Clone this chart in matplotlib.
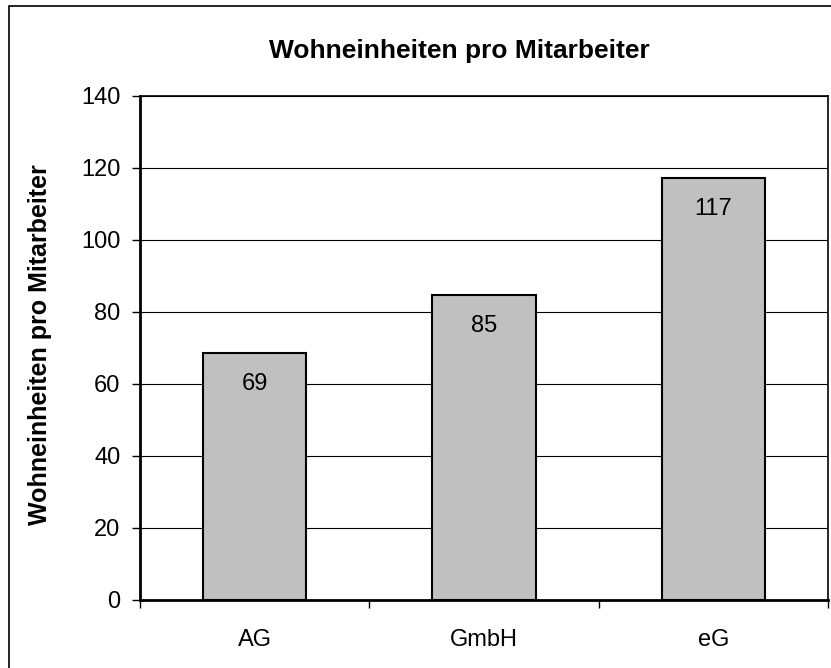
import matplotlib
matplotlib.use("Agg")
import matplotlib.pyplot as plt
from matplotlib.patches import Rectangle

categories = ["AG", "GmbH", "eG"]
values = [68.6, 84.6, 117.2]
labels = ["69", "85", "117"]
title = "Wohneinheiten pro Mitarbeiter"

plt.rcParams["font.family"] = ["Liberation Sans", "DejaVu Sans"]

fig = plt.figure(figsize=(8.31, 6.68), dpi=100)
ax = fig.add_axes([140 / 831, 1 - 600 / 668, 688 / 831, 504 / 668])

# outer chart border (cut off at right and bottom like the reference)
fig.patches.append(Rectangle((9 / 831, -0.1), 1.2, 1 - 6 / 668 + 0.1,
                             transform=fig.transFigure, fill=False,
                             edgecolor="black", linewidth=1.2))

x = range(len(categories))
bars = ax.bar(x, values, width=0.45, color="#c0c0c0", edgecolor="black",
              linewidth=1.5, zorder=3)
for b, lab in zip(bars, labels):
    ax.text(b.get_x() + b.get_width() / 2, b.get_height() - 5.5, lab,
            ha="center", va="top", fontsize=17, zorder=4)

ax.set_xlim(-0.5, 2.5)
ax.set_ylim(0, 140)
ax.set_yticks(range(0, 141, 20))
ax.set_xticks([-0.5, 0.5, 1.5, 2.5], minor=False)
ax.set_xticklabels([])
ax.set_xticks(list(x), minor=True)
ax.set_xticklabels(categories, minor=True, fontsize=17)
ax.tick_params(axis="x", which="minor", length=0, pad=21)
ax.tick_params(axis="x", which="major", length=6, direction="out", width=1)
ax.tick_params(axis="y", length=6, width=1, labelsize=17, pad=8)
ax.grid(axis="y", color="black", linewidth=0.8, zorder=0)

for s in ["left", "bottom"]:
    ax.spines[s].set_linewidth(2)
for s in ["right", "top"]:
    ax.spines[s].set_linewidth(1.2)

fig.text(40 / 831, 1 - 345 / 668, title, rotation=90, ha="center",
         va="center", fontsize=18, fontweight="bold")
fig.text(459 / 831, 1 - 51 / 668, title, ha="center", va="center",
         fontsize=19, fontweight="bold")

fig.savefig("out.png", dpi=100)
